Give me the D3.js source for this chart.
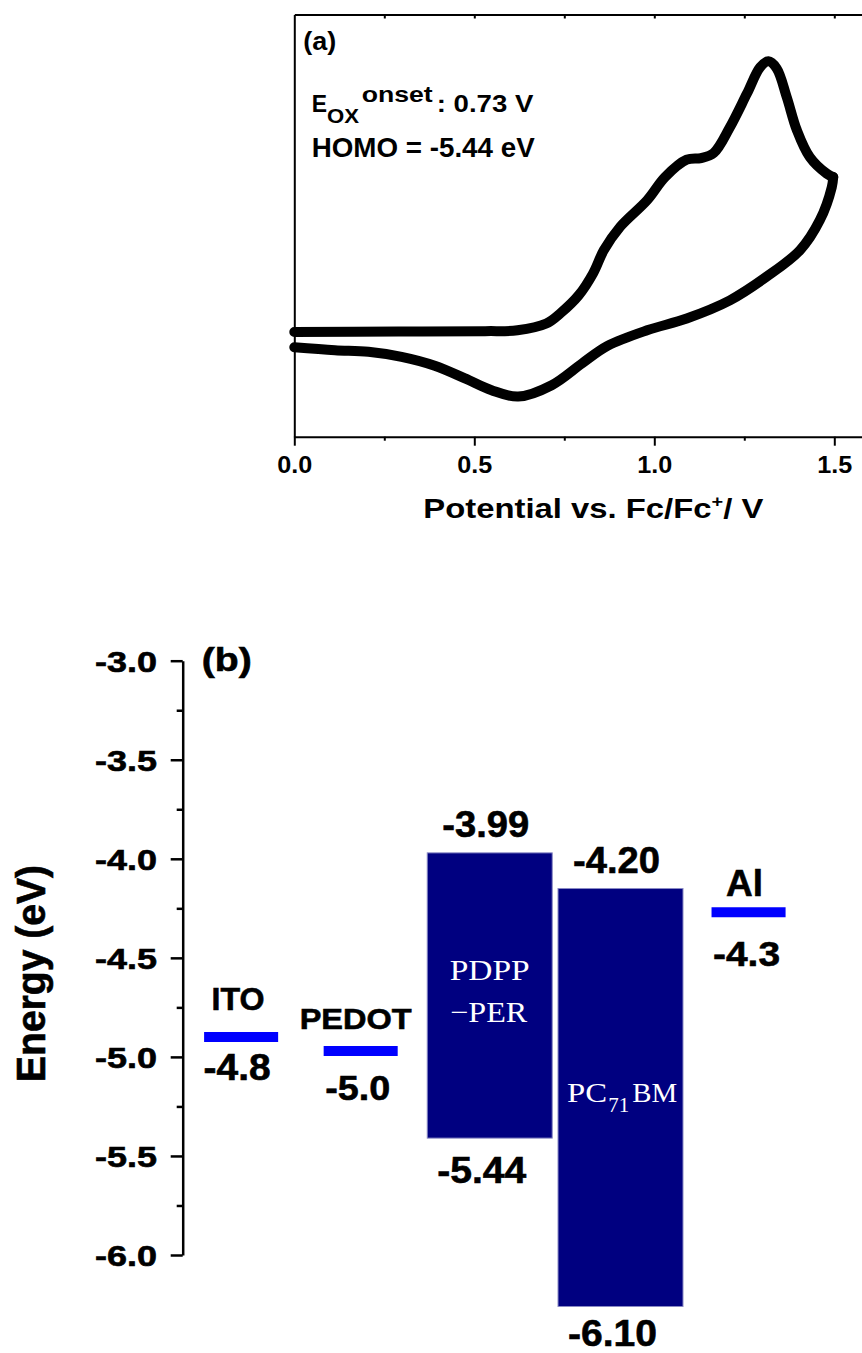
<!DOCTYPE html>
<html>
<head>
<meta charset="utf-8">
<script src="https://cdn.jsdelivr.net/npm/d3@7"></script>
<style>
    body { margin: 0; background: #fff; }
    svg { display: block; font-family: "Liberation Sans", Arial, sans-serif; font-weight: bold; }
    .heavy text, text.heavy { stroke: #000; stroke-width: 0.6px; }
    .serif { font-family: "Liberation Serif", "Times New Roman", serif; font-weight: normal; }
</style>
</head>
<body>
<svg id="fig" width="862" height="1353"></svg>
<script>
// (a) cyclic voltammogram: potential (V vs Fc/Fc+) and current (arb. units, 0..100 = axis height)
var forwardPotential = [0.00, 0.29, 0.53, 0.62, 0.70, 0.74, 0.79, 0.83, 0.86, 0.905, 0.98, 1.03, 1.09, 1.13, 1.165, 1.21, 1.257, 1.294, 1.317, 1.34, 1.368, 1.396, 1.432, 1.479, 1.497];
var forwardCurrent   = [24.8, 24.9, 25.0, 25.2, 26.8, 29.3, 33.5, 38.7, 44.2, 49.7, 56.0, 61.5, 65.6, 66.0, 67.2, 73.3, 81.2, 87.5, 88.9, 87.2, 80.4, 72.6, 66.2, 62.3, 61.5];
var reversePotential = [1.497, 1.493, 1.46, 1.405, 1.312, 1.21, 1.09, 0.98, 0.87, 0.80, 0.715, 0.622, 0.548, 0.474, 0.39, 0.298, 0.206, 0.113, 0.0];
var reverseCurrent   = [61.5, 59.1, 51.3, 44.2, 37.9, 32.3, 28.0, 25.2, 21.5, 17.4, 12.2, 9.5, 11.0, 13.8, 16.8, 18.9, 20.1, 20.5, 21.2];
var potentialTicks = [0, 0.5, 1.0, 1.5];
var potentialMinor = [0.25, 0.75, 1.25];

// (b) energy level diagram
var electrodeNames  = ["ITO", "PEDOT", "Al"];
var electrodeLevels = [-4.90, -4.97, -4.27];
var electrodeLabels = ["-4.8", "-5.0", "-4.3"];
var electrodeSlots  = [0.86, 2.62, 8.33];

var materialNames  = ["PDPP-PER", "PC71BM"];
var materialLumo   = [-3.97, -4.15];
var materialHomo   = [-5.41, -6.26];
var lumoLabels     = ["-3.99", "-4.20"];
var homoLabels     = ["-5.44", "-6.10"];
var materialSlots  = [4.52, 6.445];

var energyTicks = [-3.0, -3.5, -4.0, -4.5, -5.0, -5.5, -6.0];
var energyMinor = [-3.25, -3.75, -4.25, -4.75, -5.25, -5.75];

var svg = d3.select("#fig");

// stretch a text to the width it has in the figure
function fit(sel, size, len) {
    return sel.attr("font-size", size)
        .attr("textLength", len)
        .attr("lengthAdjust", "spacingAndGlyphs");
}

function oneDecimal(v) { return v.toFixed(1); }

// ---------------- (a) ----------------
var xCV = d3.scaleLinear().domain([0, 1.6]).range([294.3, 870.3])
    , yCV = d3.scaleLinear().domain([0, 100]).range([436.7, 14.5])
    , a = svg.append("g")
    ;

a.append("g")
    .attr("transform", "translate(0," + yCV(0) + ")")
    .call(d3.axisBottom(xCV).tickValues(potentialTicks).tickSize(9).tickSizeOuter(0)
        .tickFormat(oneDecimal))
    .call(function(g) {
        g.selectAll("text").attr("y", 36.6).attr("dy", null);
        fit(g.selectAll("text"), 24, 35);
    });

a.append("g")
    .attr("transform", "translate(0," + yCV(0) + ")")
    .call(d3.axisBottom(xCV).tickValues(potentialMinor).tickSize(4).tickFormat(""))
    .call(function(g) { g.select(".domain").remove(); });

a.append("g")
    .attr("transform", "translate(0," + yCV(100) + ")")
    .call(d3.axisTop(xCV).tickValues(potentialMinor.concat(potentialTicks.slice(1))).tickSize(-4)
        .tickSizeOuter(0).tickFormat(""));

a.append("g")
    .attr("transform", "translate(" + xCV(0) + ",0)")
    .call(d3.axisLeft(yCV).tickValues([]).tickSizeOuter(0));

a.selectAll(".domain, .tick line").attr("stroke-width", 2);
a.selectAll("g").attr("font-family", null).attr("font-size", null);

var cvLine = d3.line()
    .curve(d3.curveCatmullRom.alpha(0.5))
    .x(function(d) { return xCV(d[0]); })
    .y(function(d) { return yCV(d[1]); });

[d3.zip(forwardPotential, forwardCurrent), d3.zip(reversePotential, reverseCurrent)].forEach(function(scan) {
    a.append("path")
        .attr("d", cvLine(scan))
        .attr("fill", "none")
        .attr("stroke", "#000")
        .attr("stroke-width", 10)
        .attr("stroke-linecap", "round")
        .attr("stroke-linejoin", "round");
});

fit(a.append("text").attr("x", 303.3).attr("y", 50).text("(a)"), 26, 33);

var eox = a.append("text");
fit(eox.append("tspan").attr("x", 311.7).attr("y", 112.3).text("E"), 23, 15.3);
fit(eox.append("tspan").attr("x", 327).attr("y", 123.3).text("OX"), 21, 32);
fit(eox.append("tspan").attr("x", 361.7).attr("y", 102.3).text("onset"), 22, 71);
fit(eox.append("tspan").attr("x", 436.7).attr("y", 112.3).text(": 0.73 V"), 23, 96.6);

fit(a.append("text").attr("x", 311.7).attr("y", 156.7).text("HOMO = -5.44 eV"), 28, 223);

var xTitle = a.append("text").attr("x", 423.3).attr("y", 518);
xTitle.append("tspan").text("Potential vs. Fc/Fc");
xTitle.append("tspan").attr("font-size", 17).attr("dy", -11).text("+");
xTitle.append("tspan").attr("dy", 11).text("/ V");
fit(xTitle, 28, 340);

// ---------------- (b) ----------------
var xE = d3.scaleLinear().domain([0, 10]).range([182.7, 862])
    , yE = d3.scaleLinear().domain([-3, -6]).range([660.7, 1255])
    , b = svg.append("g").attr("class", "heavy")
    , levelWidth = 1.09
    , barWidth = 1.84
    ;

b.append("g")
    .attr("transform", "translate(" + xE(0) + ",0)")
    .call(d3.axisLeft(yE).tickValues(energyTicks).tickSize(12).tickSizeOuter(0).tickPadding(13.7)
        .tickFormat(oneDecimal))
    .call(function(g) {
        g.selectAll("text").attr("dy", "0.36em");
        fit(g.selectAll("text"), 29, 62);
    });

b.append("g")
    .attr("transform", "translate(" + xE(0) + ",0)")
    .call(d3.axisLeft(yE).tickValues(energyMinor).tickSize(6).tickFormat(""))
    .call(function(g) { g.select(".domain").remove(); });

b.selectAll(".domain, .tick line").attr("stroke-width", 2.5);
b.selectAll("g").attr("font-family", null).attr("font-size", null);

fit(b.append("text")
    .attr("transform", "translate(45,973.5) rotate(-90)")
    .attr("text-anchor", "middle")
    .text("Energy (eV)"), 40, 217);

fit(b.append("text").attr("x", 201.7).attr("y", 671).text("(b)"), 33, 50);

// electrode work functions: [dx, dy, font size, width] for name and value
var electrodeText = [
    {name: [-3, -27.3, 32, 53],  value: [-4, 42.7, 36, 67]},
    {name: [-5, -22.4, 30, 112], value: [-3, 49.3, 35, 65]},
    {name: [-4, -16.7, 37, 37],  value: [-2, 53.3, 35, 67]}
];

electrodeNames.forEach(function(name, i) {
    var cx = xE(electrodeSlots[i])
        , cy = yE(electrodeLevels[i])
        , t = electrodeText[i]
        ;

    b.append("line")
        .attr("x1", xE(electrodeSlots[i] - levelWidth / 2))
        .attr("x2", xE(electrodeSlots[i] + levelWidth / 2))
        .attr("y1", cy)
        .attr("y2", cy)
        .attr("stroke", "#0000ff")
        .attr("stroke-width", 10);

    fit(b.append("text").attr("text-anchor", "middle")
        .attr("x", cx + t.name[0]).attr("y", cy + t.name[1]).text(name), t.name[2], t.name[3]);
    fit(b.append("text").attr("text-anchor", "middle")
        .attr("x", cx + t.value[0]).attr("y", cy + t.value[1]).text(electrodeLabels[i]), t.value[2], t.value[3]);
});

// donor / acceptor frontier orbitals
var homoGap = [45, 39];

materialNames.forEach(function(name, i) {
    var cx = xE(materialSlots[i])
        , top = yE(materialLumo[i])
        , bottom = yE(materialHomo[i])
        ;

    b.append("rect")
        .attr("x", xE(materialSlots[i] - barWidth / 2))
        .attr("width", xE(barWidth) - xE(0))
        .attr("y", top)
        .attr("height", bottom - top)
        .attr("fill", "#000080")
        .attr("stroke", "#8a8ac4")
        .attr("stroke-width", 1);

    fit(b.append("text").attr("text-anchor", "middle")
        .attr("x", cx - 4).attr("y", top - 15.7).text(lumoLabels[i]), 37, 87);
    fit(b.append("text").attr("text-anchor", "middle")
        .attr("x", cx - 8).attr("y", bottom + homoGap[i]).text(homoLabels[i]), 37, 89);
});

// names inside the bars
var pdpp = b.append("text").attr("class", "serif").attr("fill", "#fff").attr("stroke", "none")
        .style("stroke", "none").attr("text-anchor", "middle")
    , pdppX = xE(materialSlots[0])
    , pdppTop = yE(materialLumo[0])
    ;
fit(pdpp.append("tspan").attr("x", pdppX).attr("y", pdppTop + 127.1).text("PDPP"), 29, 80);
fit(pdpp.append("tspan").attr("x", pdppX - 1).attr("y", pdppTop + 168.8).text("\u2212PER"), 29, 77);

var pcbm = b.append("text").attr("class", "serif").attr("fill", "#fff").style("stroke", "none")
    , pcbmX = xE(materialSlots[1] - barWidth / 2)
    , pcbmY = yE(materialLumo[1]) + 213.2
    ;
fit(pcbm.append("tspan").attr("x", pcbmX + 9).attr("y", pcbmY).text("PC"), 28, 40);
fit(pcbm.append("tspan").attr("x", pcbmX + 50.3).attr("y", pcbmY + 10).text("71"), 21, 21);
fit(pcbm.append("tspan").attr("x", pcbmX + 74.3).attr("y", pcbmY).text("BM"), 28, 45);
</script>
</body>
</html>
